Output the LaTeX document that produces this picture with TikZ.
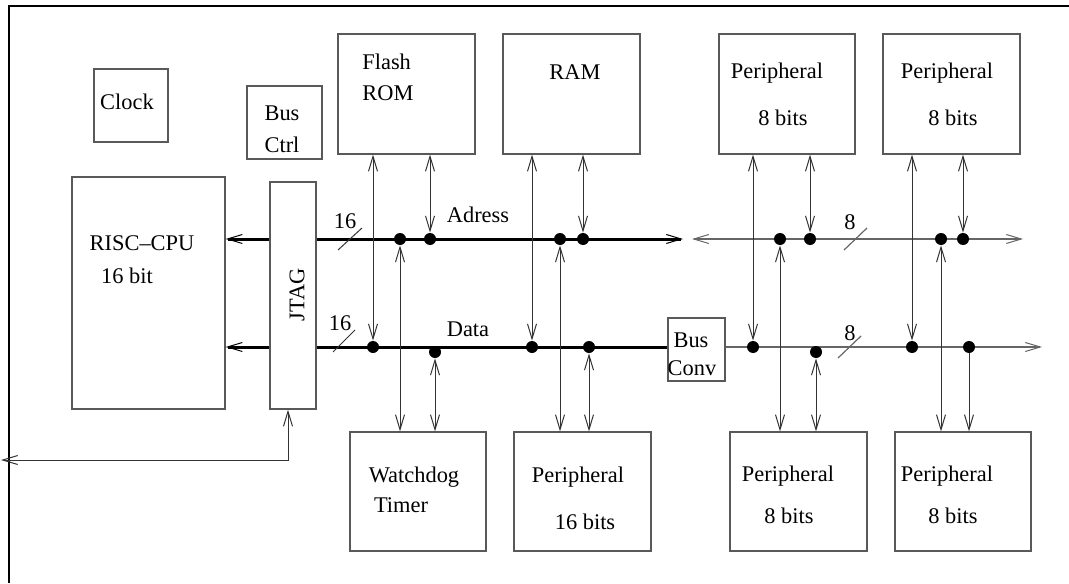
\documentclass[tikz,border=0pt]{standalone}
\usepackage{fontspec}
\setmainfont{Liberation Serif}
\usetikzlibrary{arrows.meta}
\tikzset{
  >={Straight Barb[length=7.5pt,width=4.5pt,line width=0.5pt]},
  box/.style={draw=black!65, line width=0.6pt, inner sep=0pt},
  txt/.style={inner sep=0pt, font=\fontsize{11.2pt}{13pt}\selectfont},
  dot/.style={circle, fill=black, inner sep=0pt, minimum size=6pt},
  bus/.style={line width=1.5pt},
  lbus/.style={draw=black!60, line width=0.6pt},
  wire/.style={draw=black!80, line width=0.5pt}
}

\begin{document}
\begin{tikzpicture}[x=0.5pt,y=-0.5pt]
    \useasboundingbox (0,0) rectangle (1069,583);
    \draw[line width=0.6pt] (1069,6) -- (9,6) -- (9,583);

    % blocks
    \node[box, minimum width=37pt, minimum height=36.5pt] (clock) at (131,105.5) {};
    \node[box, minimum width=37.5pt, minimum height=36.5pt] (busctrl) at (284.5,122.5) {};
    \node[box, minimum width=76.5pt, minimum height=116pt] (cpu) at (148.5,293) {};
    \node[box, minimum width=23pt, minimum height=113.5pt] (jtag) at (293,295.5) {};
    \node[box, minimum width=68.5pt, minimum height=60pt] (rom) at (406.5,94) {};
    \node[box, minimum width=68.5pt, minimum height=60pt] (ram) at (571.5,94) {};
    \node[box, minimum width=68pt, minimum height=60pt] (pt1) at (787,94) {};
    \node[box, minimum width=68.5pt, minimum height=60pt] (pt2) at (951.5,94) {};
    \node[box, minimum width=68pt, minimum height=59.5pt] (wdt) at (418,491.5) {};
    \node[box, minimum width=68.5pt, minimum height=59.5pt] (pb16) at (582.5,491.5) {};
    \node[box, minimum width=68.5pt, minimum height=59.5pt] (pb1) at (798.5,491.5) {};
    \node[box, minimum width=68pt, minimum height=59.5pt] (pb2) at (963,491.5) {};
    \node[box, minimum width=28.5pt, minimum height=31.5pt] (conv) at (696.5,349.5) {};

    % texts
    \node[txt] (tclock) at (127,102) {Clock};
    \node[txt] (tbus) at (282,113) {Bus};
    \node[txt] (tctrl) at (282,145) {Ctrl};
    \node[txt] (tcpu) at (142,243) {RISC--CPU};
    \node[txt] (tcpubits) at (127,276) {16 bit};
    \node[txt, rotate=90] (tjtag) at (297,295) {JTAG};
    \node[txt, anchor=west] (tflash) at (362,62) {Flash};
    \node[txt, anchor=west] (trom) at (362,93) {ROM};
    \node[txt] (tram) at (575,72) {RAM};
    \node[txt] (tpt1) at (777,73) {Peripheral};
    \node[txt] (tpt1b) at (783,118) {8 bits};
    \node[txt] (tpt2) at (947,73) {Peripheral};
    \node[txt] (tpt2b) at (953,118) {8 bits};
    \node[txt] (twdt) at (414,477) {Watchdog};
    \node[txt] (ttimer) at (401,505) {Timer};
    \node[txt] (tpb16) at (578,477) {Peripheral};
    \node[txt] (tpb16b) at (585,522) {16 bits};
    \node[txt] (tpb1) at (788,476) {Peripheral};
    \node[txt] (tpb1b) at (789,516) {8 bits};
    \node[txt] (tpb2) at (947,476) {Peripheral};
    \node[txt] (tpb2b) at (953,516) {8 bits};
    \node[txt] (tconvb) at (691,340) {Bus};
    \node[txt] (tconv) at (692,368) {Conv};
    \node[txt] (taddr) at (478,215) {Adress};
    \node[txt] (tdata) at (468,329) {Data};
    \node[txt] (taw) at (345,221) {16};
    \node[txt] (tdw) at (340,323) {16};
    \node[txt] (taw8) at (850,222) {8};
    \node[txt] (tdw8) at (850,333) {8};

    % buses
    \coordinate (aend) at (683,239);
    \coordinate (abeg) at (692,239);
    \coordinate (aend2) at (1023,239);
    \coordinate (dbus) at (373,347);
    \coordinate (dend) at (1042,347);
    \draw[bus,->] (jtag.west |- aend) -- (cpu.east |- aend);
    \draw[bus,->] (jtag.west |- dbus) -- (cpu.east |- dbus);
    \draw[bus,->] (jtag.east |- aend) -- (aend);
    \draw[lbus,<->] (abeg) -- (aend2);
    \draw[bus] (jtag.east |- dbus) -- (conv.west |- dbus);
    \draw[lbus,->] (conv.east |- dbus) -- (dend);

    % bus widths
    \draw[wire] (338,250) -- (362,228);
    \draw[wire] (333,352) -- (355,330);
    \draw[lbus] (844,250) -- (867,228);
    \draw[lbus] (838,358) -- (861,336);

    % taps
    \node[dot] (a1) at (400,239) {};
    \node[dot] (a2) at (430,239) {};
    \node[dot] (a3) at (560,239) {};
    \node[dot] (a4) at (583,239) {};
    \node[dot] (a5) at (780,239) {};
    \node[dot] (a6) at (810,239) {};
    \node[dot] (a7) at (941,239) {};
    \node[dot] (a8) at (963,239) {};
    \node[dot] (d1) at (373,347) {};
    \node[dot] (d2) at (435,352) {};
    \node[dot] (d3) at (532,347) {};
    \node[dot] (d4) at (589,347) {};
    \node[dot] (d5) at (753,347) {};
    \node[dot] (d6) at (816,352) {};
    \node[dot] (d7) at (912,347) {};
    \node[dot] (d8) at (969,347) {};

    \draw[wire,<->] (rom.south -| d1) -- (d1);
    \draw[wire,<->] (rom.south -| a2) -- (a2);
    \draw[wire,<->] (ram.south -| d3) -- (d3);
    \draw[wire,<->] (ram.south -| a4) -- (a4);
    \draw[wire,<->] (pt1.south -| d5) -- (d5);
    \draw[wire,<->] (pt1.south -| a6) -- (a6);
    \draw[wire,<->] (pt2.south -| d7) -- (d7);
    \draw[wire,<->] (pt2.south -| a8) -- (a8);
    \draw[wire,<->] (a1) -- (wdt.north -| a1);
    \draw[wire,<->] (d2) -- (wdt.north -| d2);
    \draw[wire,<->] (a3) -- (pb16.north -| a3);
    \draw[wire,<->] (d4) -- (pb16.north -| d4);
    \draw[wire,<->] (a5) -- (pb1.north -| a5);
    \draw[wire,<->] (d6) -- (pb1.north -| d6);
    \draw[wire,<->] (a7) -- (pb2.north -| a7);
    \draw[wire,->] (d8) -- (pb2.north -| d8);

    % jtag port
    \coordinate (ext) at (1,460);
    \coordinate (jx) at (288,460);
    \draw[wire,<->] (ext) -- (jx) -- (jtag.south -| jx);
\end{tikzpicture}
\end{document}
